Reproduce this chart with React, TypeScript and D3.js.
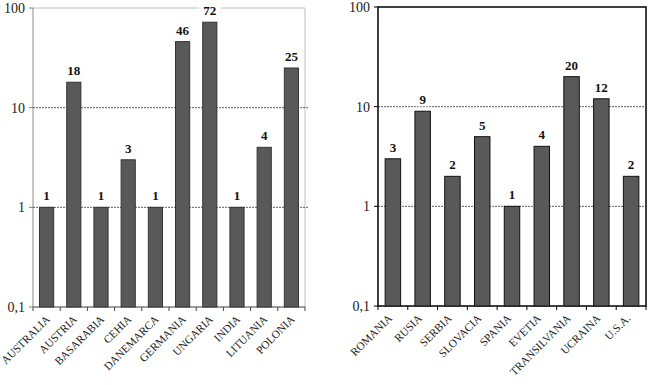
import React from 'react';
import * as d3 from 'd3';

const leftCountries = ['AUSTRALIA', 'AUSTRIA', 'BASARABIA', 'CEHIA', 'DANEMARCA', 'GERMANIA', 'UNGARIA', 'INDIA', 'LITUANIA', 'POLONIA'];
const leftValues = [1, 18, 1, 3, 1, 46, 72, 1, 4, 25];

const rightCountries = ['ROMANIA', 'RUSIA', 'SERBIA', 'SLOVACIA', 'SPANIA', 'EVETIA', 'TRANSILVANIA', 'UCRAINA', 'U.S.A.'];
const rightValues = [3, 9, 2, 5, 1, 4, 20, 12, 2];

const yTicks = [0.1, 1, 10, 100];
const yTickLabels = ['0,1', '1', '10', '100'];
const gridValues = [1, 10];

const serif = "'Liberation Serif', 'Times New Roman', Times, serif";

type PanelProps = {
  categories: string[];
  values: number[];
  x0: number;
  x1: number;
  top: number;
  bottom: number;
  frame: 'light' | 'dark';
  labelDx: number;
};

const Panel = (props: PanelProps) => {
  const { categories, values, x0, x1, top, bottom, frame, labelDx } = props;
  const x = d3.scaleBand<string>().domain(categories).range([x0, x1]).padding(0);
  const y = d3.scaleLog().domain([0.1, 100]).range([bottom, top]);
  const bw = x.bandwidth() * 0.52;
  const dark = frame === 'dark';
  const axisColor = dark ? '#000' : '#7f7f7f';

  return (
    <g style={{ fontFamily: serif }}>
      {/* frame */}
      {dark ? (
        <rect x={x0} y={top} width={x1 - x0} height={bottom - top} fill="none" stroke="#111" strokeWidth={1.6} />
      ) : (
        <g>
          <line x1={x0} y1={top} x2={x1} y2={top} stroke="#c0c0c0" />
          <line x1={x1} y1={top} x2={x1} y2={bottom} stroke="#c0c0c0" />
          <line x1={x0} y1={top} x2={x0} y2={bottom} stroke="#8a8a8a" />
          <line x1={x0} y1={bottom} x2={x1} y2={bottom} stroke="#404040" />
        </g>
      )}

      {/* gridlines */}
      {gridValues.map((v) => (
        <line key={v} x1={x0} x2={dark ? x1 : x1 + 4} y1={y(v)} y2={y(v)} stroke="#333" strokeWidth={0.8} strokeDasharray="2,1" />
      ))}

      {/* y ticks */}
      {yTicks.map((v, i) => (
        <g key={v}>
          <line x1={x0 - 4} x2={x0} y1={y(v)} y2={y(v)} stroke={axisColor} />
          <text x={x0 - 8} y={y(v)} dy="0.35em" textAnchor="end" fontSize={14} fill="#222">
            {yTickLabels[i]}
          </text>
        </g>
      ))}

      {/* x ticks */}
      {categories.map((c) => (
        <line key={c} x1={x(c)!} x2={x(c)!} y1={bottom} y2={bottom + 4} stroke={dark ? '#000' : '#404040'} />
      ))}
      <line x1={x1} x2={x1} y1={bottom} y2={bottom + 4} stroke={dark ? '#000' : '#404040'} />

      {/* bars */}
      {categories.map((c, i) => {
        const cx = x(c)! + x.bandwidth() / 2;
        return (
          <rect
            key={c}
            x={cx - bw / 2}
            y={y(values[i])}
            width={bw}
            height={bottom - y(values[i])}
            fill="#595959"
            stroke={dark ? '#111' : '#333'}
            strokeWidth={1}
          />
        );
      })}

      {/* value labels */}
      {categories.map((c, i) => {
        const cx = x(c)! + x.bandwidth() / 2;
        const ty = y(values[i]) - 7;
        const txt = String(values[i]);
        const w = txt.length * 7 + 8;
        return (
          <g key={c}>
            <rect x={cx - w / 2} y={ty - 11} width={w} height={13} fill="#fff" />
            <text x={cx} y={ty} textAnchor="middle" fontWeight="bold" fontSize={13} fill="#111">
              {txt}
            </text>
          </g>
        );
      })}

      {/* category labels */}
      {categories.map((c) => {
        const cx = x(c)! + x.bandwidth() / 2;
        return (
          <text
            key={c}
            transform={`translate(${cx + labelDx},${bottom + 13}) rotate(-45)`}
            textAnchor="end"
            fontSize={11.2}
            fill="#222"
          >
            {c}
          </text>
        );
      })}
    </g>
  );
};

export default function App() {
  return (
    <svg width={650} height={385} style={{ position: 'absolute', left: 0, top: 0, background: '#fff' }}>
      <rect width={650} height={385} fill="#fff" />
      <Panel categories={leftCountries} values={leftValues} x0={33} x1={305} top={8} bottom={307} frame="light" labelDx={4} />
      <Panel categories={rightCountries} values={rightValues} x0={378} x1={646} top={7} bottom={306} frame="dark" labelDx={0} />
    </svg>
  );
}
